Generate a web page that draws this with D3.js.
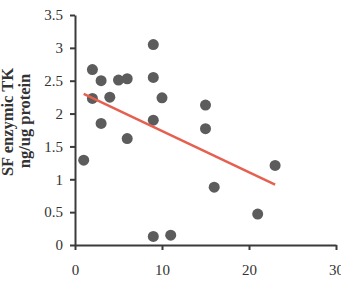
<!DOCTYPE html>
<html lang="en">
<head>
<meta charset="utf-8">
<title>SF enzymic TK</title>
<style>
  body { margin: 0; background: #fff; }
  .axis path, .axis line { stroke: #3a3a3a; stroke-width: 2px; }
  .axis text { font-family: "Liberation Serif", serif; font-size: 15px; fill: #333; }
  .ylab { font-family: "Liberation Serif", serif; font-size: 16.5px; font-weight: bold; fill: #333; }
</style>
</head>
<body>
<script src="https://d3js.org/d3.v7.min.js"></script>
<script>
  // measured values
  const xVals = [1, 2, 2, 3, 3, 4, 5, 6, 6, 9, 9, 9, 10, 9, 11, 15, 15, 16, 21, 23];
  const yVals = [1.29, 2.67, 2.23, 2.50, 1.85, 2.25, 2.51, 2.53, 1.62, 3.05, 2.55, 1.90, 2.24, 0.13, 0.15, 2.13, 1.77, 0.88, 0.47, 1.21];
  const fitX = [1, 23];
  const fitY = [2.30, 0.92];
  const xTicks = [0, 10, 20, 30];
  const yTicks = [0, 0.5, 1, 1.5, 2, 2.5, 3, 3.5];

  const width = 341, height = 290;
  const margin = {top: 15, right: 5, bottom: 45, left: 75};

  const svg = d3.select("body").append("svg")
    .attr("width", width)
    .attr("height", height);

  const x = d3.scaleLinear().domain([0, 30]).range([margin.left, width - margin.right]);
  const y = d3.scaleLinear().domain([0, 3.5]).range([height - margin.bottom, margin.top]);

  const pts = xVals.map((v, i) => ({x: v, y: yVals[i]}));

  svg.selectAll("circle.pt")
    .data(pts)
    .join("circle")
    .attr("class", "pt")
    .attr("cx", d => x(d.x))
    .attr("cy", d => y(d.y))
    .attr("r", 5.5)
    .attr("fill", "#5c5c5c");

  svg.append("line")
    .attr("x1", x(fitX[0])).attr("y1", y(fitY[0]))
    .attr("x2", x(fitX[1])).attr("y2", y(fitY[1]))
    .attr("stroke", "#e5604f")
    .attr("stroke-width", 2.5);

  // axes
  svg.append("g")
    .attr("class", "axis")
    .attr("transform", "translate(0," + y(0) + ")")
    .call(d3.axisBottom(x).tickValues(xTicks).tickFormat(d => String(d))
      .tickSize(5).tickSizeOuter(0).tickPadding(14));

  svg.append("g")
    .attr("class", "axis")
    .attr("transform", "translate(" + x(0) + ",0)")
    .call(d3.axisLeft(y).tickValues(yTicks).tickFormat(d => String(d))
      .tickSize(5).tickSizeOuter(0).tickPadding(7));

  // y label, two lines
  svg.append("text")
    .attr("class", "ylab")
    .attr("transform", "translate(12.5,122) rotate(-90)")
    .attr("text-anchor", "middle")
    .text("SF enzymic TK");

  svg.append("text")
    .attr("class", "ylab")
    .attr("transform", "translate(30,121) rotate(-90)")
    .attr("text-anchor", "middle")
    .text("ng/ug protein");
</script>
</body>
</html>
